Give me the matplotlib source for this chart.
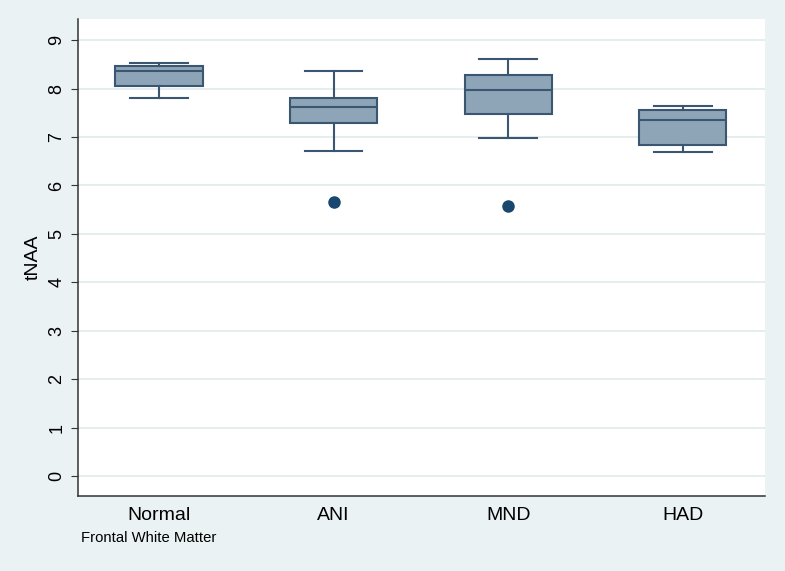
import matplotlib
matplotlib.use('Agg')
import matplotlib.pyplot as plt

plt.rcParams['font.family'] = ['Liberation Sans', 'DejaVu Sans']

# Data (tNAA, Frontal White Matter)
groups = ['Normal', 'ANI', 'MND', 'HAD']
whisker_lo = [7.80, 6.72, 6.97, 6.69]
q1 = [8.06, 7.29, 7.47, 6.84]
medians = [8.36, 7.62, 7.98, 7.35]
q3 = [8.47, 7.81, 8.27, 7.56]
whisker_hi = [8.52, 8.37, 8.61, 7.63]
outliers = [[], [5.66], [5.57], []]

bg = '#eaf2f3'
edge = '#3b5670'
fill = '#8ea4b7'

stats = []
for i in range(len(groups)):
    stats.append(dict(label=groups[i], whislo=whisker_lo[i], q1=q1[i], med=medians[i],
                      q3=q3[i], whishi=whisker_hi[i], fliers=outliers[i]))

fig = plt.figure(figsize=(7.85, 5.71), dpi=100, facecolor=bg)
ax = fig.add_axes([0.0994, 0.1313, 0.875, 0.835])
ax.set_facecolor('white')

ax.bxp(stats, positions=range(1, 5), widths=0.5, patch_artist=True,
       boxprops=dict(facecolor=fill, edgecolor=edge, linewidth=1.5),
       medianprops=dict(color=edge, linewidth=1.5),
       whiskerprops=dict(color=edge, linewidth=1.5),
       capprops=dict(color=edge, linewidth=1.5),
       capwidths=0.33,
       flierprops=dict(marker='o', markerfacecolor='#1a476f', markeredgecolor='#1a476f',
                       markersize=8))

ax.set_xlim(0.537, 4.47)
ax.set_ylim(-0.41, 9.43)
ax.set_yticks(range(0, 10))
ax.yaxis.grid(True, color='#e4ecee', linewidth=1.3)
ax.set_axisbelow(True)

for s in ['top', 'right']:
    ax.spines[s].set_visible(False)
ax.spines['left'].set_color('#333333')
ax.spines['bottom'].set_color('#333333')
ax.spines['left'].set_linewidth(1.1)
ax.spines['bottom'].set_linewidth(1.1)

ax.tick_params(axis='y', length=5, color='#333333', labelsize=13, pad=4)
ax.tick_params(axis='x', length=0, labelsize=14, pad=8)
for lab in ax.get_yticklabels():
    lab.set_rotation(90)
    lab.set_va('center')
ax.set_ylabel('tNAA', fontsize=14, labelpad=5)

fig.text(0.103, 0.058, 'Frontal White Matter', fontsize=10.7, va='center', ha='left')

fig.savefig('out.png', dpi=100, facecolor=bg)
